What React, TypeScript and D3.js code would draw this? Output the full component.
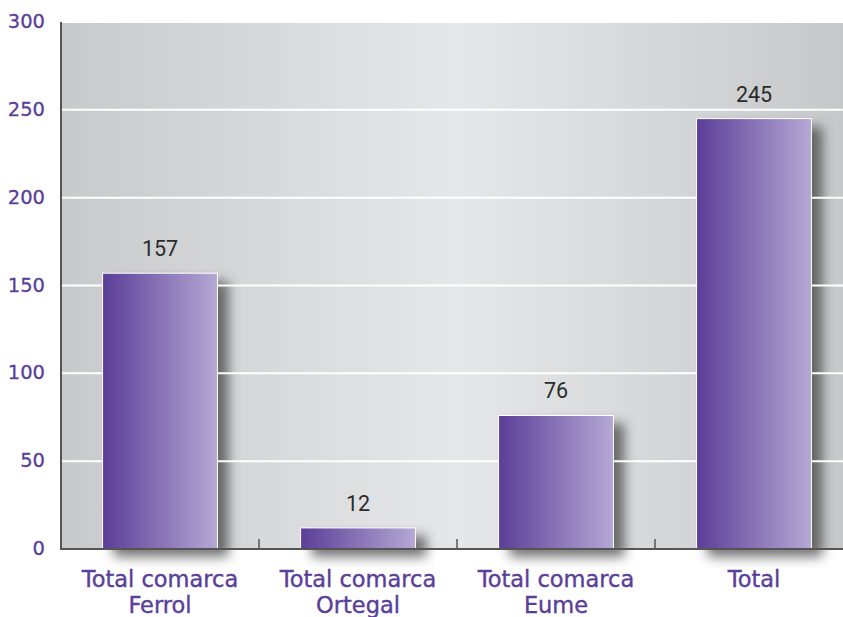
import React from "react";
import * as d3 from "d3";

const categories = [["Total comarca", "Ferrol"], ["Total comarca", "Ortegal"], ["Total comarca", "Eume"], ["Total"]];
const values = [157, 12, 76, 245];
const yTicks = [0, 50, 100, 150, 200, 250, 300];

export default function App() {
  const W = 843, H = 617;
  const left = 61, right = 853, top = 22, bottom = 549;
  const x = d3.scaleBand<number>().domain(d3.range(categories.length)).range([left, right]).paddingInner(0.42).paddingOuter(0.21);
  const xb = d3.scaleBand<number>().domain(d3.range(categories.length)).range([left, right]);
  const y = d3.scaleLinear().domain([0, 300]).range([bottom, top]);
  const purple = "#5a3f99";
  return (
    <svg width={W} height={H} style={{ position: "absolute", left: 0, top: 0 }} fontFamily="DejaVu Sans, Verdana, sans-serif">
      <defs>
        <linearGradient id="bg" x1="0" x2="1" y1="0" y2="0">
          <stop offset="0" stopColor="#c8c9cb" />
          <stop offset="0.5" stopColor="#e6e7e9" />
          <stop offset="1" stopColor="#c6c7c9" />
        </linearGradient>
        <linearGradient id="bar" x1="0" x2="1" y1="0" y2="0">
          <stop offset="0" stopColor="#5b3e98" />
          <stop offset="1" stopColor="#b4a8d4" />
        </linearGradient>
        <filter id="sh" x="-50%" y="-50%" width="200%" height="200%">
          <feGaussianBlur stdDeviation="6" />
        </filter>
      </defs>
      <rect x={0} y={0} width={W} height={H} fill="#ffffff" />
      <rect x={left} y={top} width={right - left} height={bottom - top} fill="url(#bg)" />
      {values.map((v, i) => (
        <rect key={"s" + i} x={(x(i) as number) + 11} y={y(v) + 8} width={x.bandwidth()} height={bottom - y(v)} fill="#3a3a3a" opacity={0.7} filter="url(#sh)" />
      ))}
      {yTicks.filter(t => t > 0).map(t => (
        <line key={"g" + t} x1={left} x2={right} y1={y(t)} y2={y(t)} stroke="#ffffff" strokeWidth={2} />
      ))}
      {values.map((v, i) => (
        <g key={"b" + i}>
          <rect x={x(i)} y={y(v)} width={x.bandwidth()} height={bottom - y(v)} fill="url(#bar)" stroke="#ffffff" strokeWidth={1} />
          <text x={(x(i) as number) + x.bandwidth() / 2} y={y(v) - 17} textAnchor="middle" fontSize={21.5} fill="#2b2b2b" fontFamily="Roboto, sans-serif">{v}</text>
        </g>
      ))}
      <line x1={left} x2={left} y1={top} y2={bottom + 1} stroke="#555" strokeWidth={2} />
      <line x1={left} x2={right} y1={bottom} y2={bottom} stroke="#555" strokeWidth={2} />
      {d3.range(1, categories.length).map(i => (
        <line key={"t" + i} x1={xb(i)} x2={xb(i)} y1={bottom - 10} y2={bottom} stroke="#555" strokeWidth={1.5} />
      ))}
      {yTicks.map(t => (
        <text key={"y" + t} x={45} y={y(t) + 6} textAnchor="end" fontSize={19.5} fill={purple} stroke={purple} strokeWidth={0.3}>{t}</text>
      ))}
      {categories.map((c, i) => (
        <text key={"c" + i} x={(xb(i) as number) + xb.bandwidth() / 2} textAnchor="middle" fontSize={22.5} fill={purple} stroke={purple} strokeWidth={0.4}>
          {c.map((l, j) => (
            <tspan key={j} x={(xb(i) as number) + xb.bandwidth() / 2} y={587 + j * 26}>{l}</tspan>
          ))}
        </text>
      ))}
    </svg>
  );
}
